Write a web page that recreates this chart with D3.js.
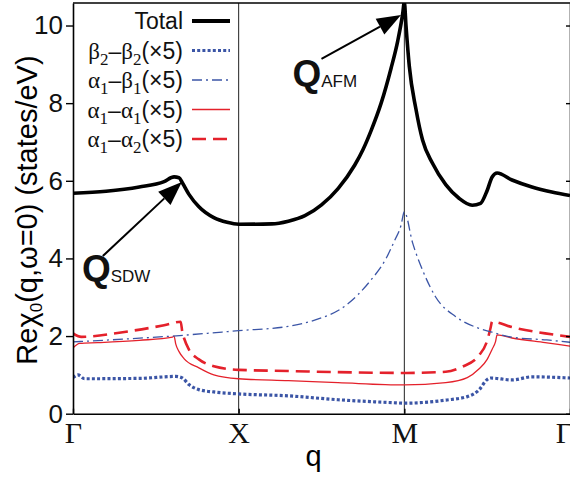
<!DOCTYPE html>
<html>
<head>
<meta charset="utf-8">
<script src="https://cdn.jsdelivr.net/npm/d3@7"></script>
<style>
  body { margin: 0; background: #fff; }
  svg { display: block; }
</style>
</head>
<body>
<svg id="chart" width="570" height="481"></svg>
<script>
// q path: 0 = Γ, 1 = X, 2 = M, 3 = Γ
const qTicks = [0, 1, 2, 3];
const qLabels = ["Γ", "X", "M", "Γ"];
const yTicks = [0, 2, 4, 6, 8, 10];

const totalData = [
  [0, 5.68], [0.2, 5.73], [0.4, 5.84], [0.55, 5.98], [0.61, 6.1], [0.64, 6.08],
  [0.66, 5.95], [0.7, 5.65], [0.76, 5.33], [0.85, 5.05], [0.93, 4.93], [1.0, 4.88],
  [1.2, 4.89], [1.3, 4.96], [1.4, 5.1], [1.5, 5.38], [1.6, 5.8], [1.7, 6.4],
  [1.75, 6.8], [1.8, 7.3], [1.86, 8.0], [1.92, 8.9], [1.96, 9.6], [1.99, 10.3],
  [2.0, 10.6], [2.01, 10.0], [2.03, 8.95], [2.07, 7.85], [2.11, 7.05], [2.17, 6.45],
  [2.25, 5.9], [2.33, 5.55], [2.41, 5.37], [2.46, 5.42], [2.5, 5.75], [2.53, 6.1],
  [2.56, 6.2], [2.65, 6.02], [2.77, 5.84], [2.89, 5.71], [3.0, 5.62]
];
const b2b2Data = [
  [0, 0.93], [0.03, 1.0], [0.07, 0.9], [0.4, 0.91], [0.62, 0.96], [0.66, 0.92],
  [0.7, 0.75], [0.76, 0.62], [0.85, 0.56], [1.0, 0.51], [1.3, 0.46], [1.6, 0.36],
  [1.95, 0.28], [2.0, 0.27], [2.25, 0.35], [2.38, 0.44], [2.45, 0.61], [2.5, 0.88],
  [2.52, 0.92], [2.65, 0.87], [2.77, 0.95], [3.0, 0.92]
];
const a1b1Data = [
  [0, 1.85], [0.3, 1.92], [0.6, 2.0], [1.0, 2.14], [1.3, 2.25], [1.45, 2.4],
  [1.65, 2.8], [1.79, 3.4], [1.89, 4.0], [1.94, 4.45], [1.98, 4.85], [2.0, 5.2],
  [2.05, 4.4], [2.11, 3.7], [2.19, 3.0], [2.31, 2.5], [2.45, 2.2], [2.53, 2.1],
  [2.65, 1.97], [2.86, 1.9], [3.0, 1.84]
];
const a1a1Data = [
  [0, 1.69], [0.04, 1.81], [0.15, 1.83], [0.4, 1.89], [0.6, 1.97], [0.61, 2.0],
  [0.62, 1.8], [0.64, 1.6], [0.67, 1.42], [0.76, 1.18], [0.85, 1.0], [1.0, 0.9],
  [1.3, 0.85], [1.6, 0.8], [2.0, 0.74], [2.25, 0.8], [2.38, 0.93], [2.45, 1.15],
  [2.5, 1.4], [2.53, 1.66], [2.55, 1.85], [2.56, 2.03], [2.65, 1.95], [2.85, 1.83],
  [3.0, 1.74]
];
const a1a2Data = [
  [0, 2.07], [0.05, 1.98], [0.3, 2.1], [0.55, 2.28], [0.65, 2.37], [0.66, 2.1],
  [0.67, 1.95], [0.7, 1.65], [0.76, 1.4], [0.85, 1.22], [1.0, 1.13], [1.3, 1.1],
  [1.6, 1.07], [2.0, 1.05], [2.25, 1.08], [2.35, 1.21], [2.45, 1.5], [2.5, 1.88],
  [2.52, 2.2], [2.53, 2.37], [2.65, 2.23], [2.85, 2.07], [3.0, 1.98]
];

const blue = "#3b55a6", red = "#e4212b";

const series = [
  { key: "total", data: totalData, color: "#000", width: 3.6, dash: null },
  { key: "b2b2", data: b2b2Data, color: blue, width: 3.2, dash: "3,2.2" },
  { key: "a1b1", data: a1b1Data, color: blue, width: 1.3, dash: "10,4,2,4" },
  { key: "a1a1", data: a1a1Data, color: red, width: 1.3, dash: null },
  { key: "a1a2", data: a1a2Data, color: red, width: 2.6, dash: "14,7" }
];

const svg = d3.select("#chart");
const mLeft = 73, mRight = 570, mTop = 3, mBottom = 413.7;

const x = d3.scaleLinear().domain([0, 3]).range([mLeft, mRight]);
const y = d3.scaleLinear().domain([0, 10.58]).range([mBottom, mTop]);

const sans = "'Liberation Sans', Arial, sans-serif";
const serif = "'Liberation Serif', 'Times New Roman', serif";

// symmetry point lines
svg.selectAll("line.sym")
  .data([1, 2])
  .enter().append("line")
  .attr("class", "sym")
  .attr("x1", d => x(d)).attr("x2", d => x(d))
  .attr("y1", mTop).attr("y2", mBottom)
  .attr("stroke", "#222").attr("stroke-width", 1);

// curves
const line = d3.line()
  .x(d => x(d[0]))
  .y(d => y(d[1]))
  .curve(d3.curveMonotoneX);

const plot = svg.append("g");
plot.append("clipPath").attr("id", "clip")
  .append("rect").attr("x", mLeft).attr("y", mTop).attr("width", mRight - mLeft).attr("height", mBottom - mTop);

series.slice().reverse().forEach(s => {
  plot.append("path")
    .datum(s.data)
    .attr("clip-path", "url(#clip)")
    .attr("d", line)
    .attr("fill", "none")
    .attr("stroke", s.color)
    .attr("stroke-width", s.width)
    .attr("stroke-dasharray", s.dash)
    .attr("stroke-linejoin", "round");
});

// axes
const yAxis = svg.append("g")
  .attr("transform", `translate(${mLeft},0)`)
  .call(d3.axisLeft(y).tickValues(yTicks).tickSize(7).tickPadding(3).tickSizeOuter(0));
yAxis.selectAll("text").attr("font-family", sans).attr("font-size", 26).attr("fill", "#111");

svg.append("g")
  .attr("transform", `translate(${mRight},0)`)
  .call(d3.axisRight(y).tickValues(yTicks).tickSize(-4).tickSizeOuter(0).tickFormat(""));

const xAxis = svg.append("g")
  .attr("transform", `translate(0,${mBottom})`)
  .call(d3.axisBottom(x).tickValues(qTicks).tickSize(-5).tickSizeOuter(0).tickPadding(8)
    .tickFormat((d, i) => qLabels[i]));
xAxis.selectAll("text").attr("font-family", serif).attr("font-size", 30).attr("fill", "#111")
  .attr("dx", d => d === 3 ? -6 : 0);

svg.selectAll(".domain").attr("stroke", "#000").attr("stroke-width", 1.6);
svg.selectAll(".tick line").attr("stroke", "#000").attr("stroke-width", 1.4);

svg.append("line")
  .attr("x1", mLeft).attr("x2", mRight).attr("y1", mTop).attr("y2", mTop)
  .attr("stroke", "#000").attr("stroke-width", 1.6);

// axis titles
svg.append("text")
  .attr("x", x(1.5) - 8).attr("y", 466)
  .attr("text-anchor", "middle")
  .attr("font-family", sans).attr("font-size", 29)
  .text("q");

const yLab = svg.append("text")
  .attr("transform", "translate(37,210) rotate(-90)")
  .attr("text-anchor", "middle")
  .attr("font-family", sans).attr("font-size", 29);
yLab.append("tspan").text("Reχ");
yLab.append("tspan").attr("font-size", 17).attr("dy", 5).text("0");
yLab.append("tspan").attr("dy", -5).text("(q,ω=0) (states/eV)");

// legend
const legendRows = [
  { key: "total", parts: [["Total", sans, 0]] },
  { key: "b2b2", parts: [["β", serif, 0], ["2", serif, 1], ["–", sans, 0], ["β", serif, 0], ["2", serif, 1], ["(×5)", sans, 0]] },
  { key: "a1b1", parts: [["α", serif, 0], ["1", serif, 1], ["–", sans, 0], ["β", serif, 0], ["1", serif, 1], ["(×5)", sans, 0]] },
  { key: "a1a1", parts: [["α", serif, 0], ["1", serif, 1], ["–", sans, 0], ["α", serif, 0], ["1", serif, 1], ["(×5)", sans, 0]] },
  { key: "a1a2", parts: [["α", serif, 0], ["1", serif, 1], ["–", sans, 0], ["α", serif, 0], ["2", serif, 1], ["(×5)", sans, 0]] }
];

legendRows.forEach((row, i) => {
  const s = series.find(d => d.key === row.key);
  const ly = 21 + i * 29.5;
  svg.append("line")
    .attr("x1", 192).attr("x2", 230).attr("y1", ly).attr("y2", ly)
    .attr("stroke", s.color).attr("stroke-width", s.key === "total" ? 4 : s.width)
    .attr("stroke-dasharray", s.dash);
  const t = svg.append("text")
    .attr("x", 183).attr("y", ly + 8)
    .attr("text-anchor", "end")
    .attr("font-size", 23).attr("fill", "#111");
  let prevSub = 0;
  row.parts.forEach(p => {
    const dy = (p[2] - prevSub) * 6;
    t.append("tspan")
      .attr("font-family", p[1])
      .attr("font-size", p[2] ? 17 : 23)
      .attr("dy", dy)
      .text(p[0]);
    prevSub = p[2];
  });
});

// annotations (data units)
const arrows = [
  { from: [0.18, 4.06], to: [0.657, 5.97], label: [0.054, 3.42], sub: "SDW" },
  { from: [1.5, 9.14], to: [1.98, 10.27], label: [1.325, 8.44], sub: "AFM" }
];

arrows.forEach(a => {
  const x0 = x(a.from[0]), y0 = y(a.from[1]);
  const x1 = x(a.to[0]), y1 = y(a.to[1]);
  const ang = Math.atan2(y1 - y0, x1 - x0);
  const L = 24, W = 9;
  const bx = x1 - L * Math.cos(ang), by = y1 - L * Math.sin(ang);
  svg.append("line")
    .attr("x1", x0).attr("y1", y0).attr("x2", bx).attr("y2", by)
    .attr("stroke", "#000").attr("stroke-width", 2);
  svg.append("polygon")
    .attr("points", [
      [x1, y1],
      [bx + W * Math.sin(ang), by - W * Math.cos(ang)],
      [bx - W * Math.sin(ang), by + W * Math.cos(ang)]
    ].map(p => p.join(",")).join(" "))
    .attr("fill", "#000");
  const t = svg.append("text")
    .attr("x", x(a.label[0])).attr("y", y(a.label[1]))
    .attr("font-family", sans).attr("fill", "#111");
  t.append("tspan").attr("font-size", 37).attr("font-weight", "bold").text("Q");
  t.append("tspan").attr("font-size", 17).attr("dy", 1).text(a.sub);
});
</script>
</body>
</html>
